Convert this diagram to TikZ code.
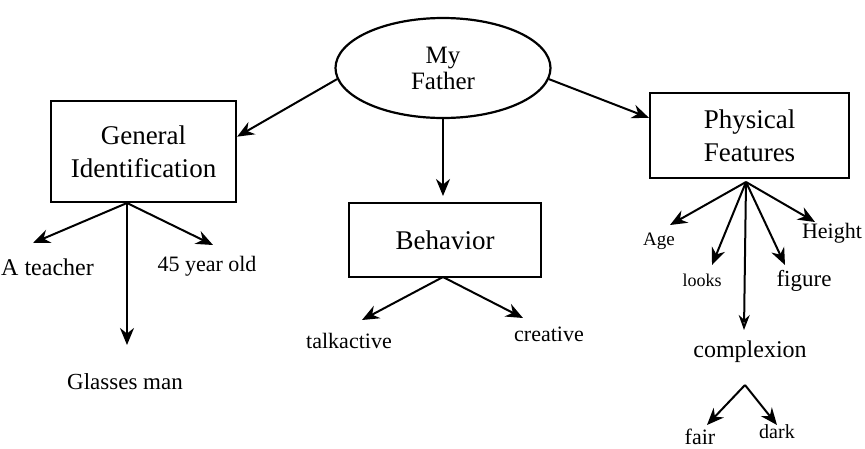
\documentclass[tikz,border=0pt]{standalone}
\usepackage{fontspec}
\setmainfont{Liberation Serif}
\usetikzlibrary{shapes.geometric,arrows.meta}

\tikzset{
  box/.style={draw, line width=2.2pt, rectangle, inner sep=0pt, align=center,
    font=\fontsize{27}{33}\selectfont},
  oval/.style={draw, line width=2.2pt, ellipse, inner sep=0pt,
    minimum width=215pt, minimum height=100pt, align=center,
    font=\fontsize{25}{27}\selectfont},
  leaf/.style={inner sep=0pt, font=\fontsize{23}{26}\selectfont},
  link/.style={line width=2pt, -{Stealth[length=17pt,width=14pt]}},
  openlink/.style={line width=2pt, -{Stealth[open,length=15pt,width=11pt]}}
}

\begin{document}
\begin{tikzpicture}[x=1pt,y=-1pt]
  \useasboundingbox (0,0) rectangle (865,448);

  % central concept and the three category boxes
  \node[oval] (father) at (443,68) {My\\[-1pt]Father};
  \node[box, minimum width=185pt, minimum height=101pt] (gi) at (143.5,151.5)
    {General\\Identification};
  \node[box, minimum width=192pt, minimum height=74pt] (beh) at (445,240) {Behavior};
  \node[box, minimum width=199pt, minimum height=85pt] (pf) at (749.5,135.5)
    {Physical\\Features};

  \draw[link] (father.186) -- (gi.9);
  \draw[link] (father.354) -- (pf.170);
  \draw[link, shorten >=7pt] (father.south) -- (443,203) coordinate (behtop);

  % general identification
  \coordinate (giB) at (127,203);
  \coordinate (teachE) at (33,243);
  \coordinate (ageE) at (213,245);
  \coordinate (glassE) at (127,345);
  \node[leaf, font=\fontsize{24}{26}\selectfont, anchor=west] (teach) at (1,267) {A teacher};
  \node[leaf, font=\fontsize{22}{26}\selectfont] (years) at (207,266) {45 year old};
  \node[leaf] (glass) at (125,382) {Glasses man};
  \draw[link] (giB) -- (teachE);
  \draw[link] (giB) -- (ageE);
  \draw[link] (giB) -- (glassE);

  % behavior
  \coordinate (behB) at (443,277);
  \coordinate (talkE) at (362,320);
  \coordinate (creaE) at (523,318);
  \node[leaf, font=\fontsize{22}{24}\selectfont] (talk) at (349,341) {talkactive};
  \node[leaf, font=\fontsize{22}{24}\selectfont] (crea) at (549,334) {creative};
  \draw[link] (behB) -- (talkE);
  \draw[link] (behB) -- (creaE);

  % physical features
  \coordinate (pfB) at (746,182);
  \coordinate (agE) at (670,225);
  \coordinate (lookE) at (712,265);
  \coordinate (compE) at (744,330);
  \coordinate (figE) at (785,265);
  \coordinate (heightE) at (815,222);
  \node[leaf, font=\fontsize{19}{22}\selectfont] (age) at (659,241) {Age};
  \node[leaf, font=\fontsize{18}{22}\selectfont] (looks) at (702,280) {looks};
  \node[leaf] (fig) at (804,281) {figure};
  \node[leaf, font=\fontsize{22}{26}\selectfont] (height) at (832,233) {Height};
  \node[leaf, font=\fontsize{24}{26}\selectfont] (comp) at (750,352) {complexion};
  \draw[link] (pfB) -- (agE);
  \draw[link] (pfB) -- (lookE);
  \draw[openlink] (pfB) -- (compE);
  \draw[link] (pfB) -- (figE);
  \draw[link] (pfB) -- (heightE);

  % complexion
  \coordinate (compB) at (745,385);
  \coordinate (fairE) at (707,425);
  \coordinate (darkE) at (777,425);
  \node[leaf, font=\fontsize{22}{24}\selectfont] (fair) at (700,437) {fair};
  \node[leaf, font=\fontsize{20}{24}\selectfont] (dark) at (777,432) {dark};
  \draw[link] (compB) -- (fairE);
  \draw[link] (compB) -- (darkE);
\end{tikzpicture}
\end{document}
